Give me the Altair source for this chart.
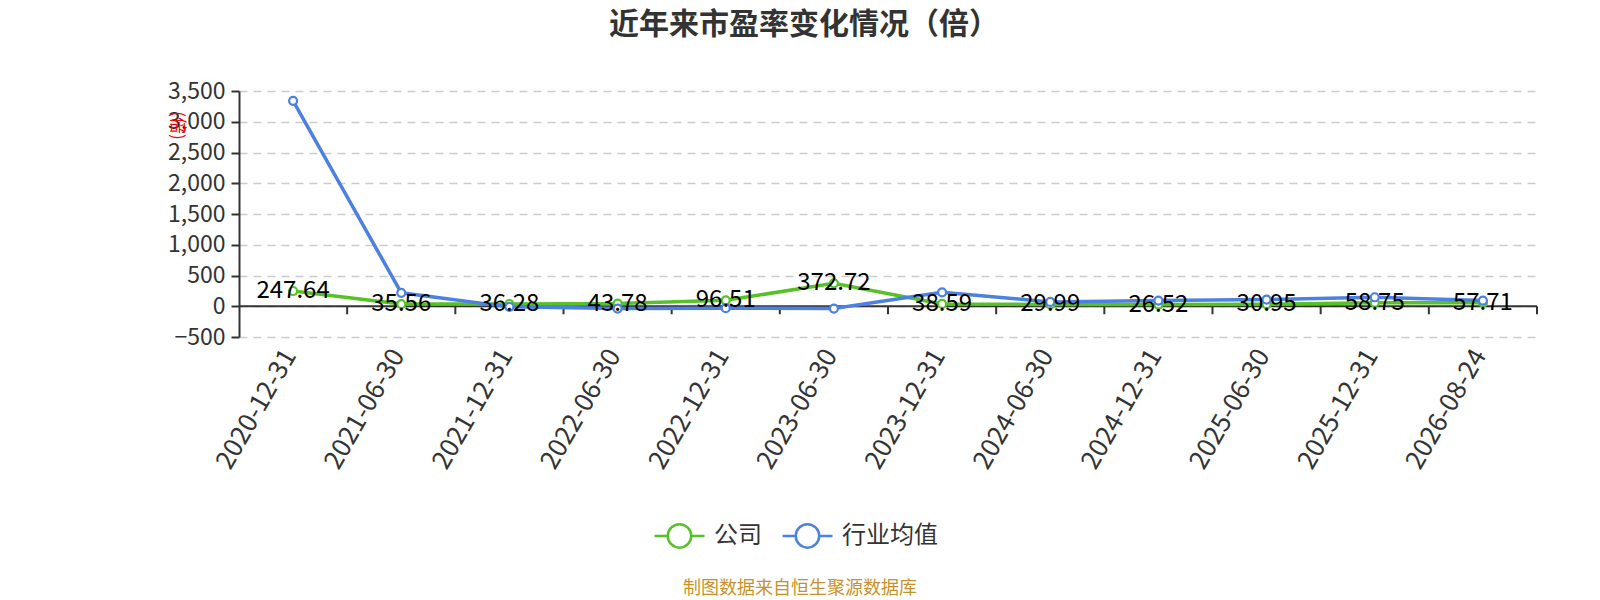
import altair as alt
import pandas as pd

FONT = "Noto Sans CJK SC"

dates = ["2020-12-31", "2021-06-30", "2021-12-31", "2022-06-30", "2022-12-31",
         "2023-06-30", "2023-12-31", "2024-06-30", "2024-12-31", "2025-06-30",
         "2025-12-31", "2026-08-24"]
company = [247.64, 35.56, 36.28, 43.78, 96.51, 372.72, 38.59, 29.99, 26.52, 30.95, 58.75, 57.71]
industry = [3340, 218, -10, -37, -32, -37, 227, 71, 92, 108, 146, 92]
series_names = ["公司", "行业均值"]
colors = ["#56c226", "#4c80e2"]
y_ticks = [-500, 0, 500, 1000, 1500, 2000, 2500, 3000, 3500]
title_text = "近年来市盈率变化情况（倍）"
source_text = "制图数据来自恒生聚源数据库"

rows = []
for name, vals in zip(series_names, [company, industry]):
    for d, v in zip(dates, vals):
        rows.append({"date": d, "value": v, "series": name})
df = pd.DataFrame(rows)
df_company = pd.DataFrame({"date": dates, "value": company})
df_ticks = pd.DataFrame({"date": dates, "zero": [0] * len(dates), "tickend": [-130] * len(dates)})
df_zero = pd.DataFrame({"zero": [0]})
df_src = pd.DataFrame({"t": [source_text]})
df_title = pd.DataFrame({"t": [title_text]})

xscale = alt.Scale(type="band", paddingInner=0, paddingOuter=0)
xaxis = alt.Axis(title=None, labelAngle=-60, labelAlign="right", labelBaseline="middle",
                 labelFontSize=26, labelColor="#333", labelFont=FONT, labelPadding=14,
                 ticks=False, tickSize=0, domain=False, grid=False, labelOffset=-3)
yscale = alt.Scale(domain=[-500, 3500], nice=False, zero=False)
yaxis = alt.Axis(values=y_ticks, labelExpr="format(datum.value, ',.0f')", title="(倍)",
                 titleColor="#ff0000",
                 titleFontSize=17, titleFont=FONT, titleFontWeight="normal", titleAngle=90,
                 titleX=-63, titleY=34, titleAlign="center", titleBaseline="middle",
                 labelFontSize=23, labelColor="#333", labelFont=FONT, labelPadding=6,
                 tickSize=8, tickColor="#333", tickWidth=2, domainColor="#333", domainWidth=2,
                 grid=True, gridDash=[8, 6], gridColor="#cccccc", gridWidth=1.5)


def X(**kw):
    return alt.X("date:N", sort=dates, scale=xscale, axis=xaxis, **kw)


def Y(field):
    return alt.Y(field, scale=yscale, axis=yaxis)


symbol_path = ("M-1,0L-0.47,0M0.47,0L1,0M-0.47,0A0.47,0.47,0,1,1,0.47,0"
               "A0.47,0.47,0,1,1,-0.47,0Z")

color_scale = alt.Scale(domain=series_names, range=colors)

lines = alt.Chart(df).mark_line(strokeWidth=3.5).encode(
    x=X(),
    y=Y("value:Q"),
    color=alt.Color("series:N", scale=color_scale, sort=series_names,
                    legend=alt.Legend(orient="none", legendX=414, legendY=418,
                                      direction="horizontal", title=None,
                                      symbolType=symbol_path, symbolSize=2500,
                                      symbolStrokeWidth=2.5, symbolFillColor="white",
                                      labelFontSize=24, labelColor="#333", labelFont=FONT,
                                      labelOffset=8, columnPadding=15, padding=0)),
)

points = alt.Chart(df).mark_point(shape="circle", filled=False, fill="white", fillOpacity=1,
                                  size=64, strokeWidth=2.2, opacity=1).encode(
    x=X(),
    y=Y("value:Q"),
    stroke=alt.Stroke("series:N", scale=color_scale, legend=None),
)

zero_line = alt.Chart(df_zero).mark_rule(color="#333", strokeWidth=2).encode(
    y=Y("zero:Q"),
)

tick_rules = alt.Chart(df_ticks).mark_rule(color="#333", strokeWidth=2).encode(
    x=X(bandPosition=1),
    y=Y("zero:Q"),
    y2="tickend:Q",
)

labels = alt.Chart(df_company).mark_text(fontSize=24, font=FONT, color="#000",
                                         align="center", baseline="middle").encode(
    x=X(),
    y=Y("value:Q"),
    text=alt.Text("value:Q", format=".2f"),
)

source = alt.Chart(df_src).mark_text(fontSize=18, font=FONT, color="#c8922a",
                                     align="center", baseline="middle").encode(
    x=alt.value(561), y=alt.value(498), text="t:N",
)

title = alt.Chart(df_title).mark_text(fontSize=30, font=FONT, fontWeight="bold", color="#333",
                                      align="center", baseline="middle").encode(
    x=alt.value(565), y=alt.value(-66), text="t:N",
)

chart = alt.layer(zero_line, tick_rules, lines, points, labels, source, title).properties(
    width=1298, height=246,
    padding={"left": 231, "top": 83, "right": 55, "bottom": 263},
    autosize=alt.AutoSizeParams(type="none"),
    background="white",
).configure_view(strokeWidth=0, stroke="transparent")

chart.save("out.html", embed_options={"renderer": "svg", "actions": False})
